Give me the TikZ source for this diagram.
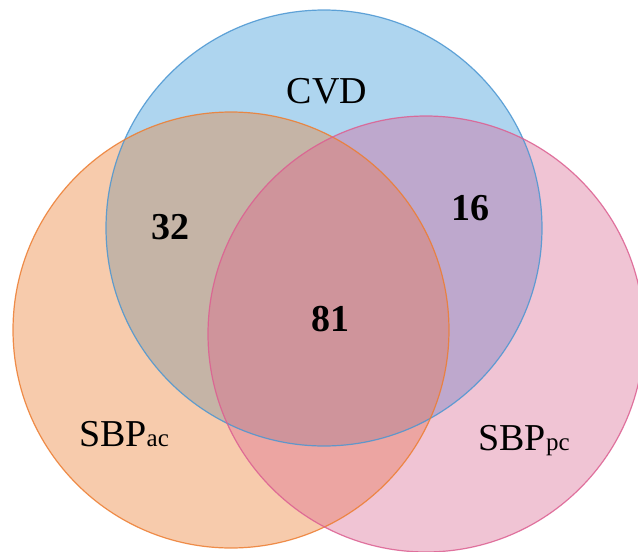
\documentclass[tikz,border=0pt]{standalone}
\usepackage{fontspec}
\setmainfont{Liberation Serif}
\definecolor{cblue}{RGB}{174,213,239}
\definecolor{corange}{RGB}{247,203,172}
\definecolor{cpink}{RGB}{240,196,212}
\definecolor{cbo}{RGB}{197,180,166}
\definecolor{cbp}{RGB}{190,168,205}
\definecolor{cop}{RGB}{236,165,162}
\definecolor{cbop}{RGB}{207,148,155}
\definecolor{lblue}{RGB}{75,150,210}
\definecolor{lorange}{RGB}{237,125,49}
\definecolor{lpink}{RGB}{220,95,145}
\tikzset{
  lbl/.style={anchor=base, inner sep=0pt, font=\fontsize{38}{38}\selectfont},
  num/.style={anchor=base, inner sep=0pt, font=\fontsize{38}{38}\selectfont\bfseries},
  ring/.style={line width=1.2pt, draw opacity=0.85}
}
\newcommand{\cB}{(324,228) circle[radius=218]}
\newcommand{\cO}{(231,330) circle[radius=218]}
\newcommand{\cP}{(426,334) circle[radius=218]}
\begin{document}
\begin{tikzpicture}[x=1pt,y=-1pt]
\useasboundingbox (0,0) rectangle (638,552);
\fill[white] (0,0) rectangle (638,552);
\fill[cblue] \cB;
\fill[corange] \cO;
\fill[cpink] \cP;
\begin{scope}
  \clip \cB; \fill[cbo] \cO;
\end{scope}
\begin{scope}
  \clip \cB; \fill[cbp] \cP;
\end{scope}
\begin{scope}
  \clip \cO; \fill[cop] \cP;
\end{scope}
\begin{scope}
  \clip \cB; \clip \cO; \fill[cbop] \cP;
\end{scope}
\draw[ring, lblue] \cB;
\draw[ring, lorange] \cO;
\draw[ring, lpink] \cP;
\node[lbl] (cvd) at (327,103) {CVD};
\node[lbl] (sbpac) at (124,446) {SBP{\fontsize{25}{25}\selectfont ac}};
\node[lbl] (sbppc) at (524,450) {SBP{\fontsize{25}{25}\selectfont pc}};
\node[num] (n32) at (170,239) {32};
\node[num] (n16) at (470,220) {16};
\node[num] (n81) at (330,331) {81};
\end{tikzpicture}
\end{document}
